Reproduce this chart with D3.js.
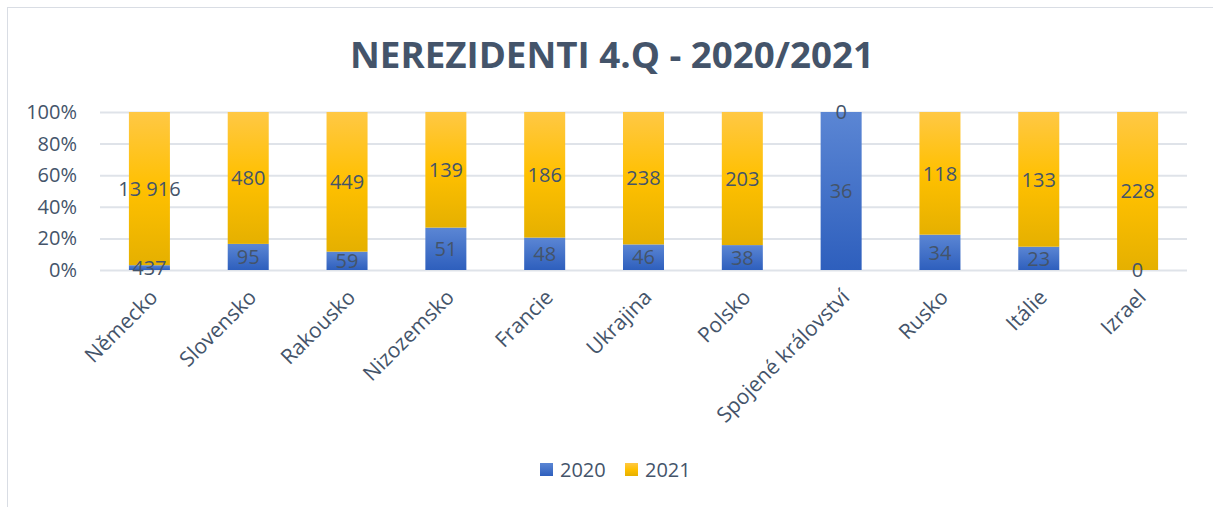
<!DOCTYPE html>
<html>
<head>
<meta charset="utf-8">
<script src="https://cdn.jsdelivr.net/npm/d3@7"></script>
<style>
  body { margin: 0; background: #fff; }
  svg text { font-family: "Open Sans", "Noto Sans", sans-serif; fill: #44546a; }
</style>
</head>
<body>
<svg id="chart" width="1213" height="507"></svg>
<script>
// data
var categories = ["Německo", "Slovensko", "Rakousko", "Nizozemsko", "Francie", "Ukrajina",
  "Polsko", "Spojené království", "Rusko", "Itálie", "Izrael"];
var values2020 = [437, 95, 59, 51, 48, 46, 38, 36, 34, 23, 0];
var values2021 = [13916, 480, 449, 139, 186, 238, 203, 0, 118, 133, 228];
var seriesNames = ["2020", "2021"];
var yTicks = [0, 0.2, 0.4, 0.6, 0.8, 1];
var titleText = "NEREZIDENTI 4.Q - 2020/2021";

var svg = d3.select("#chart");

// chart frame
svg.append("rect")
    .attr("x", 7.5).attr("y", 7.5)
    .attr("width", 1300).attr("height", 600)
    .attr("fill", "none")
    .attr("stroke", "#d9dde4");

// gradients (Excel like)
var defs = svg.append("defs");
var gradStops = {
  "2020": [["0%", "#5b86d4"], ["100%", "#2e5fbd"]],
  "2021": [["0%", "#ffc845"], ["50%", "#ffc000"], ["100%", "#e5b000"]]
};
seriesNames.forEach(function(s){
  var g = defs.append("linearGradient")
      .attr("id", "grad" + s)
      .attr("x1", 0).attr("y1", 0).attr("x2", 0).attr("y2", 1);
  gradStops[s].forEach(function(st){
    g.append("stop").attr("offset", st[0]).attr("stop-color", st[1]);
  });
});

// title
svg.append("text")
    .attr("x", 612)
    .attr("y", 68)
    .attr("text-anchor", "middle")
    .attr("textLength", 524)
    .attr("lengthAdjust", "spacingAndGlyphs")
    .style("font-size", "36px")
    .style("font-weight", "bold")
    .text(titleText);

var margin = {top: 112, left: 100};
var width = 1087, height = 158;

var g = svg.append("g")
    .attr("transform", "translate(" + margin.left + "," + margin.top + ")");

var x_scale = d3.scaleBand()
    .domain(categories)
    .range([0, width])
    .paddingInner(0.585)
    .paddingOuter(0.2925);

var y_scale = d3.scaleLinear()
    .domain([0, 1])
    .range([height, 0]);

// gridlines + y axis
var yAxis = g.append("g")
    .call(d3.axisLeft(y_scale)
        .tickValues(yTicks)
        .tickSizeInner(-width)
        .tickSizeOuter(0)
        .tickPadding(23)
        .tickFormat(d3.format(".0%")));
yAxis.select(".domain").remove();
yAxis.selectAll("line").attr("stroke", "#dfe3e9").attr("stroke-width", 2);
yAxis.selectAll("text")
    .style("font-size", "20px")
    .attr("fill", "#44546a");

// stacked data
var rows = categories.map(function(c, i){
  return {cat: c, "2020": values2020[i], "2021": values2021[i]};
});
var stacked = d3.stack()
    .keys(seriesNames)
    .offset(d3.stackOffsetExpand)(rows);

var fmt = d3.formatLocale({decimal: ",", thousands: " ", grouping: [3], currency: ["", " Kč"]}).format(",d");

var layers = g.selectAll("g.layer")
    .data(stacked)
    .enter()
    .append("g")
    .attr("class", "layer")
    .attr("fill", function(d){ return "url(#grad" + d.key + ")"; });

layers.selectAll("rect")
    .data(function(d){ return d; })
    .enter()
    .append("rect")
    .attr("x", function(d){ return x_scale(d.data.cat); })
    .attr("width", x_scale.bandwidth())
    .attr("y", function(d){ return y_scale(d[1]); })
    .attr("height", function(d){ return Math.max(0, y_scale(d[0]) - y_scale(d[1])); });

// data labels
stacked.forEach(function(layer){
  g.selectAll(null)
      .data(layer)
      .enter()
      .append("text")
      .attr("x", function(d){ return x_scale(d.data.cat) + x_scale.bandwidth() / 2; })
      .attr("y", function(d){ return y_scale((d[0] + d[1]) / 2); })
      .attr("dy", "0.36em")
      .attr("text-anchor", "middle")
      .style("font-size", "20px")
      .text(function(d){ return fmt(d.data[layer.key]); });
});

// x axis labels
g.selectAll("text.xlab")
    .data(categories)
    .enter()
    .append("text")
    .attr("class", "xlab")
    .attr("text-anchor", "end")
    .attr("transform", function(d){
      return "translate(" + (x_scale(d) + x_scale.bandwidth() / 2 - 1) + "," + (height + 18) + ") rotate(-45)";
    })
    .attr("dy", "0.71em")
    .style("font-size", "21px")
    .text(function(d){ return d; });

// legend
var legend = svg.append("g")
    .attr("transform", "translate(540,463)");
var legendX = [0, 85];
seriesNames.forEach(function(s, i){
  var lg = legend.append("g").attr("transform", "translate(" + legendX[i] + ",0)");
  lg.append("rect")
      .attr("width", 13).attr("height", 13)
      .attr("fill", "url(#grad" + s + ")");
  lg.append("text")
      .attr("x", 20)
      .attr("y", 6.5)
      .attr("dy", "0.36em")
      .style("font-size", "20px")
      .text(s);
});
</script>
</body>
</html>
